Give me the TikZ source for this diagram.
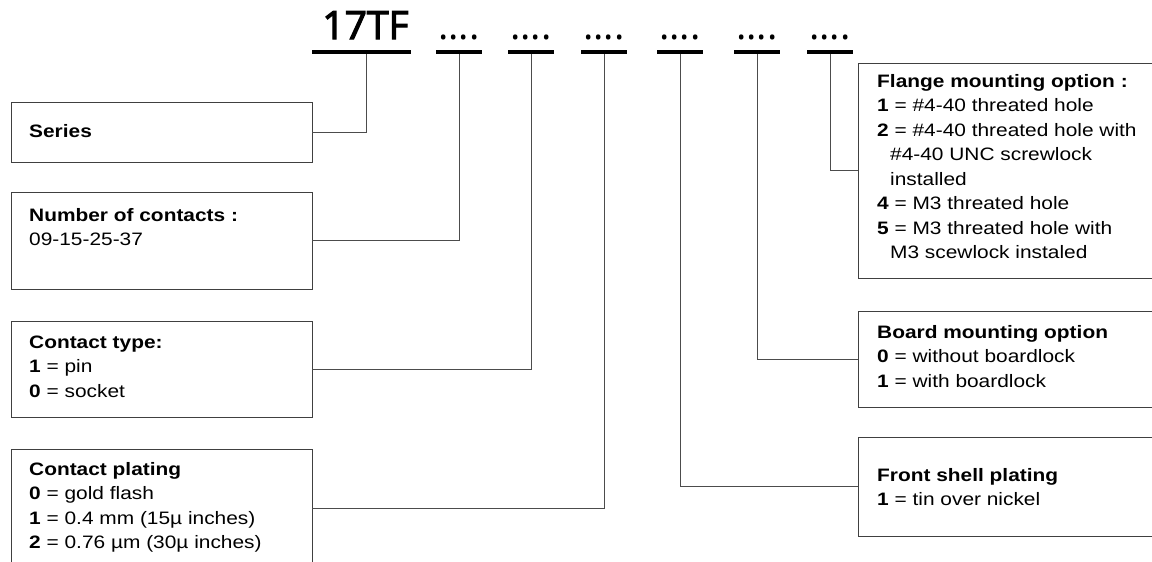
\documentclass[tikz,border=0pt]{standalone}
\usepackage{fontspec}
\setmainfont[FakeStretch=1.16]{Liberation Sans}
\newfontfamily\hdrfont{Open Sans}
\newfontfamily\hdrmedfont[FakeBold=3]{Open Sans}
\begin{document}
\begin{tikzpicture}[x=1pt,y=-1pt,
  box/.style={draw=black!75, line width=1pt, rectangle, inner sep=0pt, outer sep=0pt, anchor=north west},
  conn/.style={draw=black!70, line width=1pt},
  uline/.style={fill=black, inner sep=0pt, outer sep=0pt, minimum height=4pt},
  lbl/.style={anchor=base west, inner sep=0pt, font=\fontsize{18}{24.5}\selectfont},
  hdr/.style={anchor=base, inner sep=0pt, font=\hdrfont\fontsize{39}{39}\selectfont},
  hdrb/.style={hdr, font=\hdrmedfont\fontsize{39}{39}\selectfont}]
\useasboundingbox (0,0) rectangle (1152,562);
\clip (0,0) rectangle (1152,562);

% header
\node[hdrb] (code) at (365.5,39) {17TF};
\node[hdr] (d1) at (459,39) {....};
\node[hdr] (d2) at (531,39) {....};
\node[hdr] (d3) at (604,39) {....};
\node[hdr] (d4) at (680,39) {....};
\node[hdr] (d5) at (757,39) {....};
\node[hdr] (d6) at (830,39) {....};
\node[uline, minimum width=99pt] (u0) at (361.5,52) {};
\node[uline, minimum width=46pt] (u1) at (459,52) {};
\node[uline, minimum width=46pt] (u2) at (531,52) {};
\node[uline, minimum width=46pt] (u3) at (604,52) {};
\node[uline, minimum width=46pt] (u4) at (680,52) {};
\node[uline, minimum width=46pt] (u5) at (757,52) {};
\node[uline, minimum width=46pt] (u6) at (830,52) {};

% left boxes
\node[box, minimum width=301pt, minimum height=60pt] (series) at (11,102) {};
\node[box, minimum width=301pt, minimum height=97pt] (number) at (11,192) {};
\node[box, minimum width=301pt, minimum height=96pt] (ctype) at (11,321) {};
\node[box, minimum width=301pt, minimum height=118pt] (cplat) at (11,449) {};

% right boxes
\node[box, minimum width=310pt, minimum height=215pt] (flange) at (858,63) {};
\node[box, minimum width=310pt, minimum height=96pt] (board) at (858,311) {};
\node[box, minimum width=310pt, minimum height=99pt] (front) at (858,437) {};

% texts
\node[lbl] (tseries) at (29,137) {\textbf{Series}};
\node[lbl] (tnumber) at (29,221) {\parbox[t]{280pt}{\textbf{Number of contacts :}\\09-15-25-37}};
\node[lbl] (tctype) at (29,348) {\parbox[t]{280pt}{\textbf{Contact type:}\\\textbf{1} = pin\\\textbf{0} = socket}};
\node[lbl] (tcplat) at (29,475) {\parbox[t]{280pt}{\textbf{Contact plating}\\\textbf{0} = gold flash\\\textbf{1} = 0.4 mm (15µ inches)\\\textbf{2} = 0.76 µm (30µ inches)}};
\node[lbl] (tflange) at (877,87) {\parbox[t]{280pt}{\textbf{Flange mounting option :}\\\textbf{1} = \#4-40 threated hole\\\textbf{2} = \#4-40 threated hole with\\\hspace*{13pt}\#4-40 UNC screwlock\\\hspace*{13pt}installed\\\textbf{4} = M3 threated hole\\\textbf{5} = M3 threated hole with\\\hspace*{13pt}M3 scewlock instaled}};
\node[lbl] (tboard) at (877,338) {\parbox[t]{280pt}{\textbf{Board mounting option}\\\textbf{0} = without boardlock\\\textbf{1} = with boardlock}};
\node[lbl] (tfront) at (877,481) {\parbox[t]{280pt}{\textbf{Front shell plating}\\\textbf{1} = tin over nickel}};

% connectors
\draw[conn] ([xshift=4.5pt]u0.south) |- (series.east);
\draw[conn] (u1.south) |- (number.east);
\draw[conn] (u2.south) |- (ctype.east);
\draw[conn] (u3.south) |- (cplat.east);
\draw[conn] (u4.south) |- (front.west);
\draw[conn] (u5.south) |- (board.west);
\draw[conn] (u6.south) |- (flange.west);
\end{tikzpicture}
\end{document}
